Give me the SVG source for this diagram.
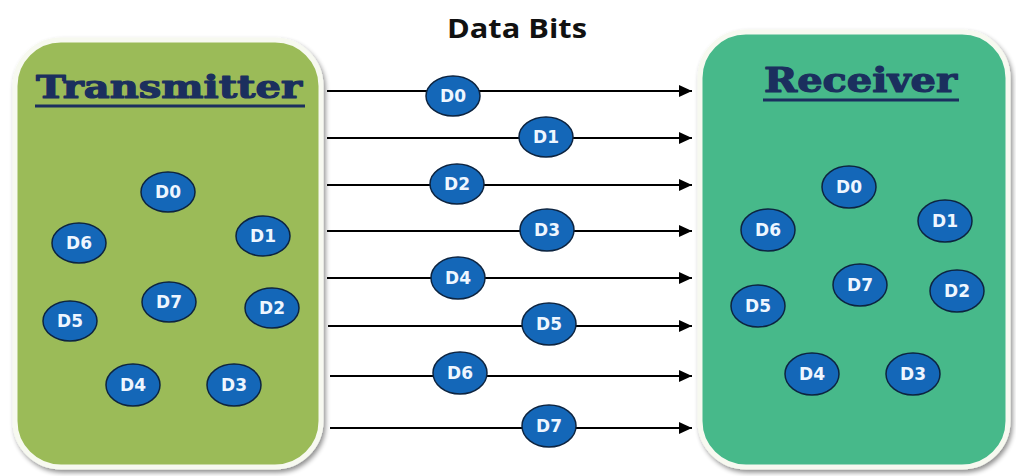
<svg xmlns="http://www.w3.org/2000/svg" width="1016" height="476" viewBox="0 0 1016 476">
  <defs>
    <filter id="shadow" x="-10%" y="-10%" width="120%" height="120%">
      <feGaussianBlur in="SourceAlpha" stdDeviation="2.5"/>
      <feOffset dx="2" dy="3" result="b"/>
      <feComponentTransfer><feFuncA type="linear" slope="0.45"/></feComponentTransfer>
      <feMerge><feMergeNode/><feMergeNode in="SourceGraphic"/></feMerge>
    </filter>
    <marker id="arrow" markerWidth="13" markerHeight="12" refX="13" refY="6" orient="auto" markerUnits="userSpaceOnUse">
      <path d="M0,0 L13,6 L0,12 Z" fill="#000"/>
    </marker>
  </defs>
  <style>
    .box { stroke: #f7f9f0; stroke-width: 5; }
    .title { font-family: "DejaVu Serif", "Liberation Serif", serif; font-weight: bold; fill: #1b2f5e; stroke: #1b2f5e; stroke-width: 1.2; stroke-linejoin: round; }
    .uline { stroke: #1b2f5e; stroke-width: 3; }
    .bit ellipse { fill: #1467b8; stroke: #0d2440; stroke-width: 1.5; }
    .bit text { font-family: "DejaVu Sans", "Liberation Sans", sans-serif; font-weight: bold; font-size: 17px; fill: #eef6ff; text-anchor: middle; }
    .wire { stroke: #000; stroke-width: 2; fill: none; marker-end: url(#arrow); }
    .head { font-family: "Open Sans", "Liberation Sans", sans-serif; font-weight: bold; font-size: 27px; fill: #111; }
  </style>
  <rect width="1016" height="476" fill="#ffffff"/>

  <text class="head" x="447" y="38" textLength="140" lengthAdjust="spacingAndGlyphs">Data Bits</text>

  <g id="transmitter">
    <rect class="box" x="15" y="40" width="306" height="427" rx="46" ry="46" fill="#9bbb59" filter="url(#shadow)"/>
    <text class="title" x="36" y="98" font-size="32" textLength="266" lengthAdjust="spacingAndGlyphs">Transmitter</text>
    <line class="uline" x1="35" y1="106" x2="305" y2="106"/>
  </g>

  <g id="receiver">
    <rect class="box" x="700" y="32" width="308" height="435" rx="46" ry="46" fill="#47b98a" filter="url(#shadow)"/>
    <text class="title" x="764" y="92" font-size="34" textLength="193" lengthAdjust="spacingAndGlyphs">Receiver</text>
    <line class="uline" x1="763" y1="100" x2="959" y2="100"/>
  </g>

  <g id="connectors">
    <line class="wire" x1="327" y1="91" x2="692" y2="91"/>
    <line class="wire" x1="327" y1="138" x2="692" y2="138"/>
    <line class="wire" x1="327" y1="185" x2="692" y2="185"/>
    <line class="wire" x1="327" y1="231" x2="692" y2="231"/>
    <line class="wire" x1="327" y1="278" x2="692" y2="278"/>
    <line class="wire" x1="328" y1="326" x2="692" y2="326"/>
    <line class="wire" x1="330" y1="376" x2="692" y2="376"/>
    <line class="wire" x1="330" y1="428" x2="692" y2="428"/>
  </g>

  <!-- bits on the wires -->
  <g id="wire-d0" class="bit"><ellipse cx="453" cy="96" rx="27" ry="20"/><text x="453" y="102">D0</text></g>
  <g id="wire-d1" class="bit"><ellipse cx="546" cy="137" rx="27" ry="20"/><text x="546" y="143">D1</text></g>
  <g id="wire-d2" class="bit"><ellipse cx="457" cy="184" rx="27" ry="20"/><text x="457" y="190">D2</text></g>
  <g id="wire-d3" class="bit"><ellipse cx="547" cy="230" rx="27" ry="21"/><text x="547" y="236">D3</text></g>
  <g id="wire-d4" class="bit"><ellipse cx="458" cy="278" rx="27" ry="21"/><text x="458" y="284">D4</text></g>
  <g id="wire-d5" class="bit"><ellipse cx="549" cy="324" rx="27" ry="21"/><text x="549" y="330">D5</text></g>
  <g id="wire-d6" class="bit"><ellipse cx="460" cy="373" rx="27" ry="21"/><text x="460" y="379">D6</text></g>
  <g id="wire-d7" class="bit"><ellipse cx="549" cy="426" rx="27" ry="21"/><text x="549" y="432">D7</text></g>

  <!-- transmitter bits -->
  <g id="tx-d0" class="bit"><ellipse cx="168" cy="192" rx="27" ry="20"/><text x="168" y="198">D0</text></g>
  <g id="tx-d6" class="bit"><ellipse cx="79" cy="243" rx="27" ry="20"/><text x="79" y="249">D6</text></g>
  <g id="tx-d1" class="bit"><ellipse cx="263" cy="236" rx="27" ry="20"/><text x="263" y="242">D1</text></g>
  <g id="tx-d7" class="bit"><ellipse cx="169" cy="302" rx="27" ry="20"/><text x="169" y="308">D7</text></g>
  <g id="tx-d2" class="bit"><ellipse cx="272" cy="308" rx="27" ry="20"/><text x="272" y="314">D2</text></g>
  <g id="tx-d5" class="bit"><ellipse cx="70" cy="321" rx="27" ry="20"/><text x="70" y="327">D5</text></g>
  <g id="tx-d4" class="bit"><ellipse cx="133" cy="385" rx="27" ry="21"/><text x="133" y="391">D4</text></g>
  <g id="tx-d3" class="bit"><ellipse cx="234" cy="385" rx="27" ry="21"/><text x="234" y="391">D3</text></g>

  <!-- receiver bits -->
  <g id="rx-d0" class="bit"><ellipse cx="849" cy="187" rx="27" ry="21"/><text x="849" y="193">D0</text></g>
  <g id="rx-d6" class="bit"><ellipse cx="768" cy="230" rx="27" ry="21"/><text x="768" y="236">D6</text></g>
  <g id="rx-d1" class="bit"><ellipse cx="945" cy="221" rx="27" ry="21"/><text x="945" y="227">D1</text></g>
  <g id="rx-d7" class="bit"><ellipse cx="860" cy="285" rx="27" ry="21"/><text x="860" y="291">D7</text></g>
  <g id="rx-d2" class="bit"><ellipse cx="957" cy="291" rx="27" ry="21"/><text x="957" y="297">D2</text></g>
  <g id="rx-d5" class="bit"><ellipse cx="758" cy="306" rx="27" ry="21"/><text x="758" y="312">D5</text></g>
  <g id="rx-d4" class="bit"><ellipse cx="812" cy="374" rx="27" ry="21"/><text x="812" y="380">D4</text></g>
  <g id="rx-d3" class="bit"><ellipse cx="913" cy="374" rx="27" ry="21"/><text x="913" y="380">D3</text></g>
</svg>
